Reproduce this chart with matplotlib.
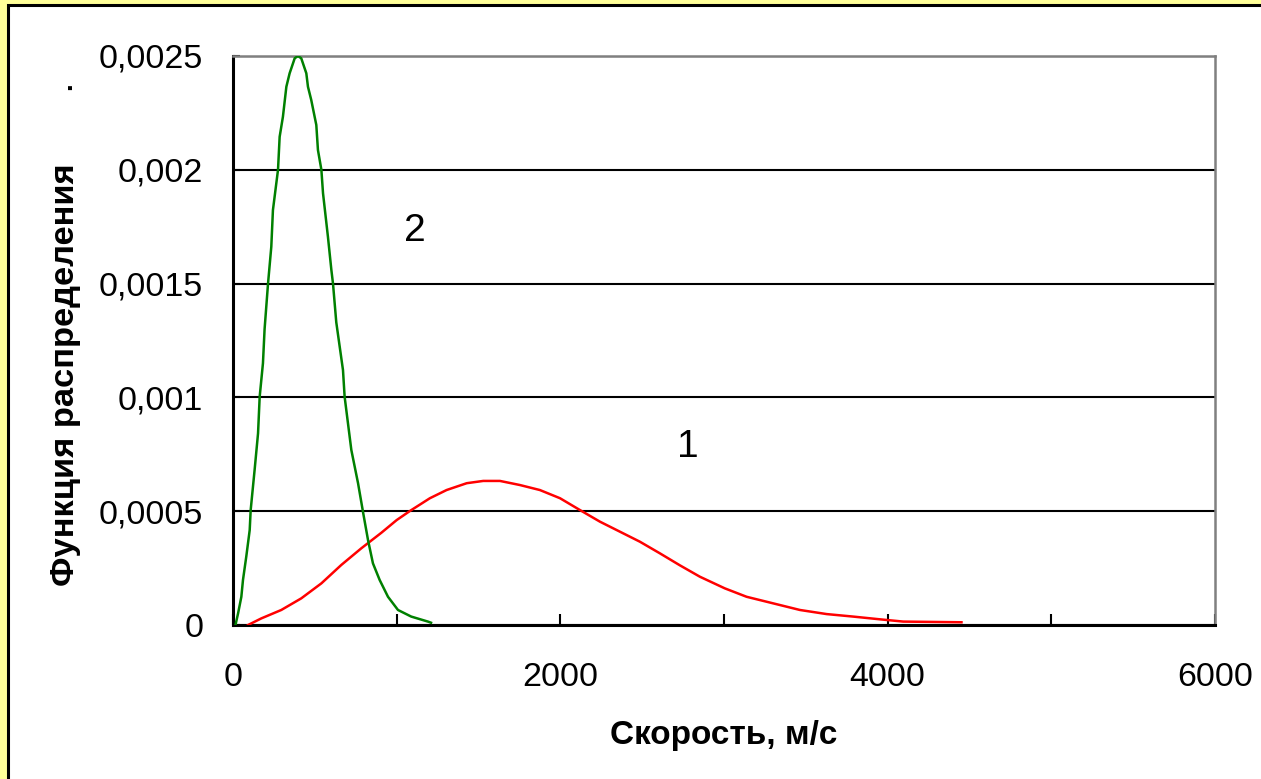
import matplotlib
matplotlib.use("Agg")
import matplotlib.pyplot as plt
from matplotlib.patches import Rectangle
from matplotlib.ticker import MultipleLocator, FuncFormatter

plt.rcParams["font.family"] = ["Liberation Sans", "DejaVu Sans"]

# curve 1 (red): speed, m/s and distribution value
v1 = [92, 173, 295, 417, 540, 662, 784, 906, 1000, 1081, 1203, 1305, 1428,
      1529, 1631, 1753, 1875, 1998, 2120, 2242, 2364, 2486, 2608, 2731, 2853,
      3005, 3138, 3301, 3464, 3627, 3789, 3952, 4095, 4451]
f1 = [0.0, 0.000029, 0.000066, 0.000117, 0.000183, 0.000264, 0.000337,
      0.000405, 0.000461, 0.000501, 0.000557, 0.000593, 0.000623, 0.000633,
      0.000633, 0.000615, 0.000593, 0.000557, 0.000505, 0.000454, 0.00041,
      0.000366, 0.000315, 0.000262, 0.000212, 0.000161, 0.000124, 0.000095,
      0.000066, 0.000048, 0.000037, 0.000025, 0.000015, 0.000012]

# curve 2 (green)
v2 = [15, 31, 51, 61, 81, 102, 108, 132, 153, 163, 183, 193, 214, 234, 244,
      275, 285, 305, 326, 346, 377, 397, 417, 448, 458, 478, 509, 519, 540,
      550, 580, 601, 611, 631, 672, 682, 723, 764, 794, 825, 855, 896, 947,
      1008, 1089, 1191, 1210]
f2 = [0.0, 0.000051, 0.000124, 0.000198, 0.0003, 0.000417, 0.000505,
      0.000681, 0.000842, 0.001003, 0.00115, 0.0013, 0.0015, 0.001662,
      0.001823, 0.002, 0.002145, 0.002233, 0.002365, 0.002424, 0.00249,
      0.0025, 0.00249, 0.002424, 0.002365, 0.002307, 0.002197, 0.002087,
      0.002, 0.001897, 0.001706, 0.00156, 0.0015, 0.00133, 0.00112, 0.001003,
      0.000769, 0.000623, 0.000498, 0.000373, 0.000271, 0.000198, 0.000124,
      0.000066, 0.000037, 0.000015, 0.00001]

W, H = 1261, 779
fig = plt.figure(figsize=(W / 100, H / 100), dpi=100, facecolor="#FFFF99")

# white chart area with dark frame, kept behind the axes
fig.patches.append(Rectangle((8 / W, -0.05), 1.1, 1 - 5 / H + 0.05,
                             transform=fig.transFigure, facecolor="white",
                             edgecolor="black", linewidth=2.2, zorder=-1))

ax = fig.add_axes([233 / W, 1 - 625 / H, (1215 - 233) / W, (625 - 56) / H])
ax.set_facecolor("white")

ax.plot(v1, f1, color="#FF0000", lw=1.8, zorder=3)
ax.plot(v2, f2, color="#008000", lw=1.8, zorder=3)

ax.set_xlim(0, 6000)
ax.set_ylim(0, 0.0025)

ax.xaxis.set_major_locator(MultipleLocator(2000))
ax.xaxis.set_minor_locator(MultipleLocator(1000))
ax.yaxis.set_major_locator(MultipleLocator(0.0005))
ax.yaxis.set_major_formatter(FuncFormatter(
    lambda y, _: "0" if y == 0 else f"{y:g}".replace(".", ",")))
ax.xaxis.set_major_formatter(FuncFormatter(lambda x, _: f"{x:.0f}"))

ax.tick_params(axis="x", which="both", direction="in", length=8, width=1.5,
               colors="black", labelsize=24.5, pad=27)
ax.tick_params(axis="y", direction="in", length=5, width=1.5,
               colors="black", labelsize=24.5, pad=21.5)

ax.grid(axis="y", color="black", lw=1.5)
for s in ("left", "bottom"):
    ax.spines[s].set_color("black")
    ax.spines[s].set_linewidth(2.2)
for s in ("top", "right"):
    ax.spines[s].set_color("#808080")
    ax.spines[s].set_linewidth(1.8)

ax.set_xlabel("Скорость, м/с", fontsize=24, fontweight="bold", labelpad=19)
ax.set_ylabel("Функция распределения", fontsize=24.8, fontweight="bold")
ax.yaxis.set_label_coords(-152 / (1215 - 233), 0.44)

fig.text(64 / W, 1 - 86 / H, ".", rotation=90, fontsize=20,
         fontweight="bold", ha="center", va="center")

ax.text(1110, 0.00173, "2", fontsize=28, ha="center", va="center")
ax.text(2780, 0.00078, "1", fontsize=28, ha="center", va="center")

fig.savefig("out.png", dpi=100, facecolor=fig.get_facecolor())
